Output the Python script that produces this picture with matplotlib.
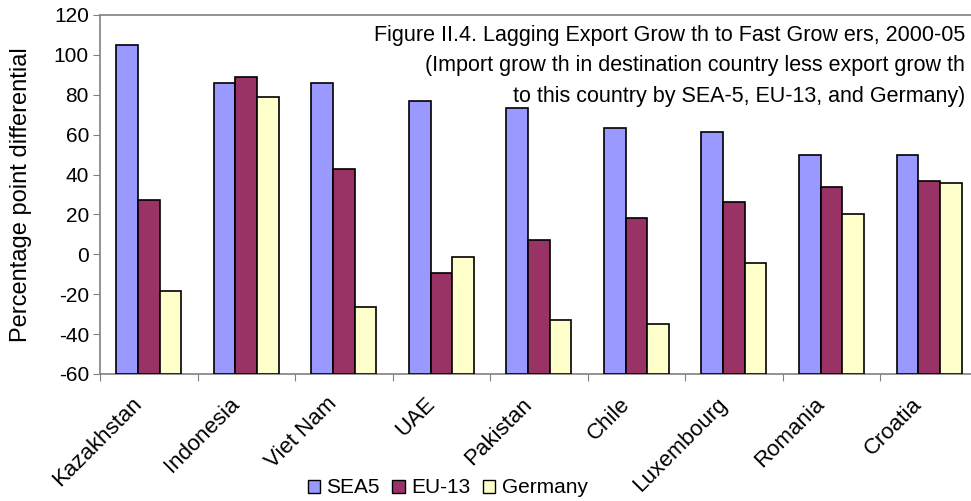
import numpy as np
import matplotlib
matplotlib.use("Agg")
import matplotlib.pyplot as plt
from matplotlib.patches import Patch
import matplotlib.transforms as mtransforms

plt.rcParams['font.family'] = ['Liberation Sans', 'DejaVu Sans']
plt.rcParams['axes.unicode_minus'] = False

# data
countries = ["Kazakhstan", "Indonesia", "Viet Nam", "UAE", "Pakistan",
             "Chile", "Luxembourg", "Romania", "Croatia"]
sea5 = [105, 86, 86, 77, 73.5, 63.5, 61.5, 50, 50]
eu13 = [27, 89, 43, -9.5, 7, 18, 26, 34, 37]
germany = [-18.5, 79, -26.5, -1.5, -33, -35, -4.5, 20, 36]

series_names = ["SEA5", "EU-13", "Germany"]
colors = ["#9999FF", "#993366", "#FFFFCC"]

fig = plt.figure(figsize=(9.71, 5.01), dpi=100)
ax = fig.add_axes([0.103, 0.2535, 0.904, 0.7166])

x = np.arange(len(countries))
w = 0.222
for i, (vals, c) in enumerate(zip([sea5, eu13, germany], colors)):
    ax.bar(x + (i - 1) * w, np.array(vals) + 60, bottom=-60, width=w,
           color=c, edgecolor="black", linewidth=1.2, zorder=3)

ax.set_xlim(-0.5, len(countries) - 0.5)
ax.set_ylim(-60, 120)
ax.set_yticks(np.arange(-60, 121, 20))
ax.tick_params(axis="y", labelsize=15, length=5, color="#808080", pad=3)

# category ticks between groups
ax.set_xticks(np.arange(-0.5, len(countries) - 0.4, 1.0))
ax.set_xticklabels([])
ax.tick_params(axis="x", length=5, color="#808080", direction="out")

offset = mtransforms.ScaledTranslation(-0.1, -0.27, fig.dpi_scale_trans)
for xi, name in zip(x, countries):
    ax.text(xi, -60, name, rotation=45, ha="right", va="center",
            rotation_mode="anchor", fontsize=16,
            transform=ax.transData + offset)

for side in ["left", "bottom", "top"]:
    ax.spines[side].set_color("#808080")
    ax.spines[side].set_linewidth(1.2)
ax.spines["right"].set_visible(False)

ax.set_ylabel("Percentage point differential", fontsize=17)
ax.yaxis.set_label_coords(-0.077, 0.5)

fig.text(0.994, 0.951,
         "Figure II.4. Lagging Export Grow th to Fast Grow ers, 2000-05\n"
         "(Import grow th in destination country less export grow th\n"
         "to this country by SEA-5, EU-13, and Germany)",
         ha="right", va="top", fontsize=15.5, linespacing=1.62)

handles = [Patch(facecolor=c, edgecolor="black", linewidth=1) for c in colors]
fig.legend(handles, series_names, loc="center", bbox_to_anchor=(0.461, 0.026),
           ncol=3, frameon=False, fontsize=15, handlelength=0.6,
           handleheight=0.6, handletextpad=0.3, columnspacing=0.6)

fig.savefig("out.png", dpi=100)
